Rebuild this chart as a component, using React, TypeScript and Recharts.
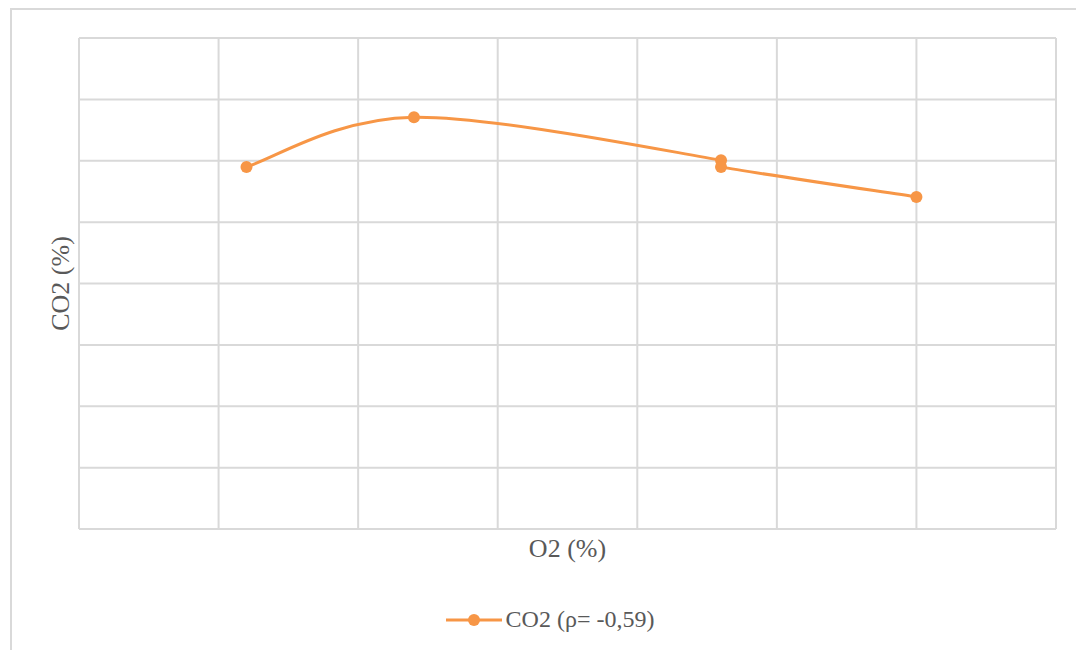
import { LineChart, Line, XAxis, YAxis, CartesianGrid, Legend } from 'recharts'

const o2Values = [1.2, 2.4, 4.6, 4.6, 6.0]
const co2Values = [5.9, 6.71, 6.01, 5.9, 5.41]
const xTicks = [0, 1, 2, 3, 4, 5, 6, 7]
const yTicks = [0, 1, 2, 3, 4, 5, 6, 7, 8]

const seriesName = 'CO2 (ρ= -0,59)'
const orange = '#F79646'
const textColor = '#595959'
const gridColor = '#d9d9d9'
const fontFamily = '"Liberation Serif", "Times New Roman", serif'

const data = o2Values.map((o2, i) => ({ o2, co2: co2Values[i] }))

// Excel-like smoothed line: Catmull-Rom tangents, clamped on very short segments
function excelSmooth(context: any) {
  let pts: number[][] = []
  const ctrl = (a: number[], b: number[], dx: number, dy: number, len: number, sign: number) => {
    const m = Math.hypot(dx, dy)
    const k = m > len * 0.5 && m > 0 ? (len * 0.5) / m : 1
    return [a[0] + sign * dx * k, a[1] + sign * dy * k]
  }
  return {
    areaStart() {},
    areaEnd() {},
    lineStart() {
      pts = []
    },
    lineEnd() {
      if (!pts.length) return
      context.moveTo(pts[0][0], pts[0][1])
      for (let i = 0; i < pts.length - 1; i++) {
        const p0 = pts[Math.max(i - 1, 0)]
        const p1 = pts[i]
        const p2 = pts[i + 1]
        const p3 = pts[Math.min(i + 2, pts.length - 1)]
        const len = Math.hypot(p2[0] - p1[0], p2[1] - p1[1])
        const c1 = ctrl(p1, p2, (p2[0] - p0[0]) / 6, (p2[1] - p0[1]) / 6, len, 1)
        const c2 = ctrl(p2, p1, (p3[0] - p1[0]) / 6, (p3[1] - p1[1]) / 6, len, -1)
        context.bezierCurveTo(c1[0], c1[1], c2[0], c2[1], p2[0], p2[1])
      }
    },
    point(x: number, y: number) {
      pts.push([x, y])
    },
  }
}

function LegendContent() {
  return (
    <div style={{ display: 'flex', justifyContent: 'center', alignItems: 'center', fontFamily, fontSize: 24, color: textColor }}>
      <svg width={56} height={14} style={{ marginRight: 4 }}>
        <line x1={0} y1={7} x2={56} y2={7} stroke={orange} strokeWidth={3} />
        <circle cx={28} cy={7} r={6} fill={orange} />
      </svg>
      <span>{seriesName}</span>
    </div>
  )
}

export default function App() {
  return (
    <div style={{ position: 'absolute', left: 0, top: 0, width: 1076, height: 650, background: '#fff', overflow: 'hidden' }}>
      <div style={{ position: 'absolute', left: 10, top: 8, width: 1100, height: 700, border: `2px solid ${gridColor}` }} />
      <div style={{ position: 'absolute', left: 0, top: 0 }}>
        <LineChart width={1076} height={650} data={data} margin={{ top: 38, right: 20, bottom: 120, left: 78 }}>
          <CartesianGrid stroke={gridColor} strokeWidth={2} />
          <XAxis
            type="number"
            dataKey="o2"
            domain={[0, 7]}
            ticks={xTicks}
            interval={0}
            tick={() => null}
            tickLine={false}
            axisLine={false}
            height={1}
            label={{ value: 'O2 (%)', position: 'bottom', offset: 9, fill: textColor, fontSize: 26, fontFamily }}
          />
          <YAxis
            type="number"
            domain={[0, 8]}
            ticks={yTicks}
            interval={0}
            tick={() => null}
            tickLine={false}
            axisLine={false}
            width={1}
            label={{ value: 'CO2 (%)', angle: -90, position: 'left', offset: 18, fill: textColor, fontSize: 26, fontFamily, style: { textAnchor: 'middle' } }}
          />
          <Legend verticalAlign="middle" layout="horizontal" content={<LegendContent />} wrapperStyle={{ top: 606, left: 24, width: 1052 }} />
          <Line
            type={excelSmooth as any}
            dataKey="co2"
            name={seriesName}
            stroke={orange}
            strokeWidth={3}
            dot={{ r: 6, fill: orange, stroke: orange, strokeWidth: 0 }}
            isAnimationActive={false}
          />
        </LineChart>
      </div>
    </div>
  )
}
